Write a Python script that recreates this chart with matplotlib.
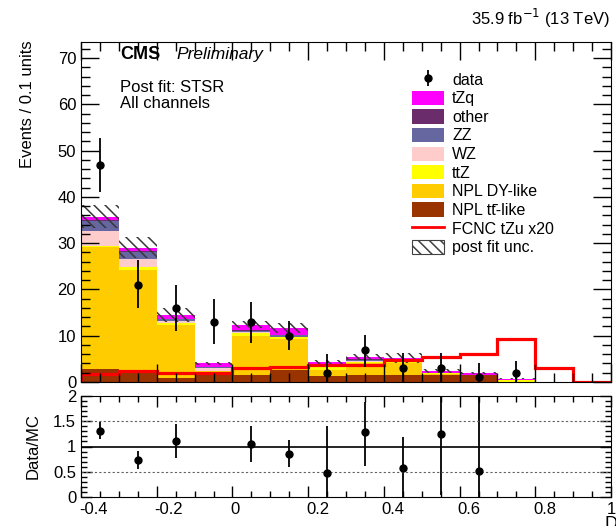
import numpy as np
import matplotlib
matplotlib.use("Agg")
import matplotlib.pyplot as plt
import matplotlib.transforms as mtransforms
from matplotlib.patches import Patch
from matplotlib.lines import Line2D
from matplotlib.ticker import MultipleLocator, FuncFormatter

plt.rcParams['font.family'] = ['Liberation Sans', 'DejaVu Sans']
plt.rcParams['hatch.linewidth'] = 1.1

# --- Binning: 14 bins of 0.1 ---
edges = np.round(np.linspace(-0.4, 1.0, 15), 2)
centers = 0.5 * (edges[:-1] + edges[1:])

# --- Post-fit backgrounds, stacked bottom -> top ---
npl_tt = [2.8, 2.6, 0.9, 1.7, 1.5, 2.6, 1.3, 1.5, 1.5, 1.6, 1.5, 0.0, 0.0, 0.0]
npl_dy = [26.3, 21.7, 11.5, 0.6, 8.5, 6.7, 1.3, 2.5, 2.6, 0.15, 0.05, 0.0, 0.0, 0.0]
ttz    = [0.4, 0.5, 0.3, 0.1, 0.6, 0.4, 0.55, 0.4, 0.4, 0.1, 0.05, 0.35, 0.0, 0.0]
wz     = [3.1, 1.8, 0.5, 0.6, 0.2, 0.1, 0.2, 0.2, 0.1, 0.05, 0.0, 0.0, 0.0, 0.0]
zz     = [2.2, 1.6, 0.4, 0.2, 0.3, 0.3, 0.2, 0.2, 0.1, 0.05, 0.0, 0.0, 0.0, 0.0]
other  = [0.2, 0.2, 0.1, 0.1, 0.2, 0.1, 0.1, 0.1, 0.05, 0.0, 0.0, 0.0, 0.0, 0.0]
tzq    = [0.7, 0.6, 0.8, 0.7, 1.1, 1.5, 0.6, 0.5, 0.45, 0.45, 0.35, 0.4, 0.0, 0.0]
unc    = [2.5, 2.3, 1.5, 0.4, 0.8, 1.0, 0.4, 0.7, 1.0, 0.35, 0.25, 0.15, 0.0, 0.0]

# signal x20
fcnc = [1.7, 2.4, 1.9, 2.0, 3.0, 3.3, 3.7, 3.7, 4.8, 5.5, 6.0, 9.3, 3.0, 0.0]

# data with error bar ends (nan = empty bin)
data    = [47, 21, 16, 13, 13, 10, 2, 7, 3, 3, 1, 2, np.nan, np.nan]
data_lo = [41.1, 16.0, 11.1, 8.2, 8.5, 6.9, 0.0, 3.3, 0.0, 0.1, 0.0, 0.0, np.nan, np.nan]
data_hi = [52.8, 26.3, 21.0, 17.9, 17.4, 13.2, 6.0, 10.2, 6.2, 6.2, 4.2, 4.6, np.nan, np.nan]

stack = [
    (npl_tt, '#993300', 'NPL tt\u0304-like'),
    (npl_dy, '#ffcc00', 'NPL DY-like'),
    (ttz,    '#ffff00', 'ttZ'),
    (wz,     '#ffcccc', 'WZ'),
    (zz,     '#6666a0', 'ZZ'),
    (other,  '#6b2c6b', 'other'),
    (tzq,    '#ff00ff', 'tZq'),
]

fig = plt.figure(figsize=(6.16, 5.26), dpi=100)
ax = fig.add_axes([81/616, 1-382/526, 530/616, 340/526])
rax = fig.add_axes([81/616, 1-497/526, 530/616, 101/526])

# --- Stack ---
bottom = np.zeros(len(centers))
for vals, col, lab in stack:
    vals = np.array(vals)
    ax.stairs(bottom + vals, edges, baseline=bottom, fill=True, color=col, lw=0)
    bottom = bottom + vals
total = bottom
unc = np.array(unc)

# post fit uncertainty band
ax.stairs(total + unc, edges, baseline=total - unc, fill=True, facecolor='none',
          edgecolor='#383838', hatch='\\\\\\', lw=0)

# signal
ax.stairs(fcnc, edges, baseline=0, color='red', lw=2.3)

# data
data = np.array(data, dtype=float)
yerr = [data - np.array(data_lo), np.array(data_hi) - data]
data_h = ax.errorbar(centers, data, yerr=yerr, fmt='o', color='black', ms=5,
                     elinewidth=1.3, capsize=0)

ax.set_xlim(-0.4, 1.0)
ax.set_ylim(0, 73.5)
ax.yaxis.set_major_locator(MultipleLocator(10))
ax.yaxis.set_minor_locator(MultipleLocator(2))
for a in (ax, rax):
    a.xaxis.set_major_locator(MultipleLocator(0.2))
    a.xaxis.set_minor_locator(MultipleLocator(0.05))
    a.tick_params(which='both', direction='in', top=True, right=True, labelsize=12)
ax.tick_params(which='major', length=13, width=1)
ax.tick_params(which='minor', length=6.5, width=1)
ax.tick_params(axis='x', labelbottom=False)

fig.text(28/616, 1-40/526, 'Events / 0.1 units', rotation=90, ha='center', va='top', fontsize=12)

# --- Texts ---
ax.text(0.074, 0.962, 'CMS', transform=ax.transAxes, fontsize=13, fontweight='bold', va='center')
ax.text(0.180, 0.962, 'Preliminary', transform=ax.transAxes, fontsize=12.5, style='italic', va='center')
ax.text(0.074, 0.866, 'Post fit: STSR', transform=ax.transAxes, fontsize=12, va='center')
ax.text(0.074, 0.819, 'All channels', transform=ax.transAxes, fontsize=12, va='center')
fig.text(610/616, 1-18/526, r'35.9 fb$^{-1}$ (13 TeV)', ha='right', va='center', fontsize=12)

# --- Legend ---
handles = [data_h]
labels = ['data']
for vals, col, lab in stack[::-1]:
    handles.append(Patch(facecolor=col, edgecolor='none'))
    labels.append(lab)
handles.append(Line2D([], [], color='red', lw=2))
labels.append('FCNC tZu x20')
handles.append(Patch(facecolor='white', edgecolor='#404040', hatch='\\\\\\', lw=0.8))
labels.append('post fit unc.')
ax.legend(handles, labels, loc='upper left', bbox_to_anchor=(0.625, 0.912), frameon=False,
          fontsize=11.5, labelspacing=0.19, handlelength=2.0, handleheight=1.0,
          handletextpad=0.5, borderpad=0, borderaxespad=0)

# --- Ratio panel ---
mc = total.copy()
safe = np.where(mc > 0, mc, 1)
ratio = np.where(mc > 0, data / safe, np.nan)
r_lo = (data - np.array(data_lo)) / safe
r_hi = (np.array(data_hi) - data) / safe
show = (ratio <= 2) & np.isfinite(ratio)
rax.errorbar(centers[show], ratio[show], yerr=[r_lo[show], r_hi[show]], fmt='o', color='black',
             ms=5, elinewidth=1.3, capsize=0)
rax.axhline(1, color='black', lw=1.2)
for yl in (0.5, 1.5):
    rax.axhline(yl, color='#606060', lw=0.8, ls=(0, (2, 2)))
rax.set_xlim(-0.4, 1.0)
rax.set_ylim(0, 2)
rax.yaxis.set_major_locator(MultipleLocator(0.5))
rax.yaxis.set_minor_locator(MultipleLocator(0.1))
rax.tick_params(which='major', length=8, width=1)
rax.tick_params(which='minor', length=4, width=1)
rax.xaxis.set_major_formatter(FuncFormatter(lambda v, p: f"{v:g}" if abs(v) > 1e-9 else "0"))
rax.yaxis.set_major_formatter(FuncFormatter(lambda v, p: f"{v:g}"))
fig.canvas.draw()
shift = mtransforms.ScaledTranslation(-2/100, 0, fig.dpi_scale_trans)
for lab in rax.get_xticklabels():
    if lab.get_text() and lab.get_text() != '1':
        lab.set_horizontalalignment('left')
        lab.set_transform(lab.get_transform() + shift)
fig.text(33/616, 1-446/526, 'Data/MC', rotation=90, ha='center', va='center', fontsize=12)
fig.text(605/616, 1-516/526, 'D', ha='left', va='top', fontsize=13)

fig.savefig('out.png', dpi=100)
